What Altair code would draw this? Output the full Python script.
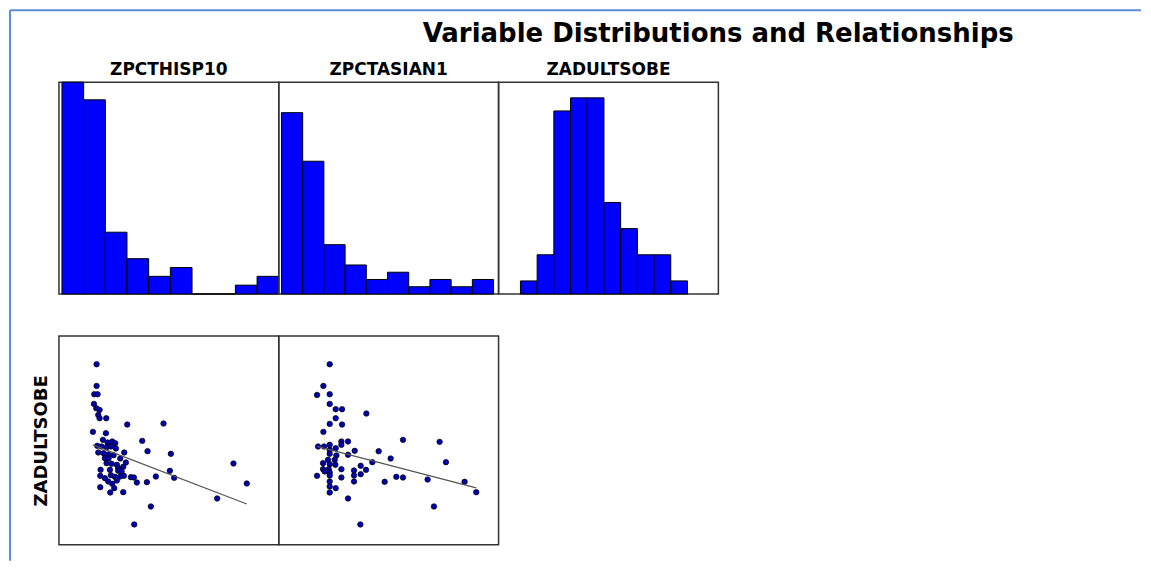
import altair as alt
import pandas as pd

# ---------------- data ----------------
main_title = ["Variable Distributions and Relationships"]
var_names = ["ZPCTHISP10", "ZPCTASIAN1", "ZADULTSOBE"]

hisp_edges = [-0.86, -0.398, 0.064, 0.526, 0.988, 1.45, 1.912, 2.374, 2.836, 3.298, 3.76]
hisp_counts = [24, 22, 7, 4, 2, 3, 0, 0, 1, 2]
asian_edges = [-0.73, -0.252, 0.226, 0.704, 1.182, 1.66, 2.138, 2.616, 3.094, 3.572, 4.05]
asian_counts = [25, 18.3, 6.8, 4, 2, 3, 1, 2, 1, 2]
obese_edges = [-1.84, -1.359, -0.878, -0.397, 0.084, 0.565, 1.046, 1.527, 2.008, 2.489, 2.97]
obese_counts = [1, 3, 14, 15, 15, 7, 5, 3, 3, 1]

hisp_x = [-0.75, -0.75, -0.82, -0.72, -0.83, -0.76, -0.66, -0.70, -0.66, -0.46,
          -0.86, -0.47, 0.17, 1.26, 0.62, -0.56, -0.42, -0.28, -0.19, -0.73,
          -0.60, -0.45, -0.32, -0.17, 0.78, -0.70, -0.54, -0.40, -0.24, 0.08,
          1.48, -0.39, -0.04, -0.50, -0.45, -0.30, -0.14, 0.13, 0.05, -0.10,
          -0.63, -0.35, -0.10, 0.00, -0.64, -0.32, -0.20, -0.04, 0.07, 0.28,
          0.37, -0.50, 1.45, 1.03, 1.58, 3.36, -0.40, -0.14, 0.46, 0.76,
          3.76, -0.28, -0.64, -0.22, -0.34, 0.05, 2.87, 0.88, 0.38]
hisp_y = [2.97, 2.32, 2.07, 2.07, 1.78, 1.65, 1.60, 1.45, 1.35, 1.35,
          0.94, 0.90, 1.16, 1.19, 0.67, 0.70, 0.62, 0.65, 0.60, 0.52,
          0.50, 0.48, 0.50, 0.44, 0.36, 0.32, 0.30, 0.26, 0.24, 0.32,
          0.28, 0.14, 0.14, 0.15, 0.00, -0.02, -0.05, 0.02, -0.11, -0.15,
          -0.20, -0.20, -0.23, -0.25, -0.38, -0.36, -0.41, -0.40, -0.38, -0.42,
          -0.43, -0.45, -0.23, -0.40, -0.44, -0.01, -0.55, -0.52, -0.58, -0.57,
          -0.61, -0.62, -0.72, -0.75, -0.88, -0.87, -1.06, -1.30, -1.84]

asian_x = [-0.35, -0.54, -0.73, -0.35, -0.35, -0.17, 0.02, 0.75, -0.17, -0.35,
           0.02, -0.54, 0.00, 0.20, 1.85, 2.95, -0.70, -0.52, -0.35, -0.17,
           0.00, -0.35, 0.40, 1.12, -0.35, -0.15, 0.20, -0.40, -0.20, 1.48,
           0.93, 3.14, -0.55, -0.35, -0.18, -0.55, -0.38, 0.00, 0.38, 0.58,
           0.74, -0.50, -0.35, -0.73, -0.35, 0.00, 0.38, 0.58, 1.65, 1.85,
           2.59, -0.35, 0.38, 1.30, 3.70, 4.05, -0.35, -0.17, -0.35, 0.20,
           2.78, 0.57]
asian_y = [2.97, 2.32, 2.05, 2.07, 1.78, 1.62, 1.62, 1.49, 1.35, 1.18,
           1.16, 0.94, 0.65, 0.65, 0.70, 0.64, 0.50, 0.50, 0.55, 0.45,
           0.55, 0.40, 0.37, 0.36, 0.28, 0.23, 0.25, 0.10, 0.10, 0.14,
           0.03, 0.03, 0.00, -0.03, -0.05, -0.18, -0.18, -0.18, -0.22, -0.08,
           -0.20, -0.25, -0.28, -0.38, -0.37, -0.43, -0.37, -0.33, -0.41, -0.43,
           -0.49, -0.55, -0.55, -0.56, -0.56, -0.87, -0.70, -0.75, -0.88, -1.06,
           -1.30, -1.84]

FONT = "DejaVu Sans"
BAR_FILL = "#0000ff"
PT_FILL = "#0000b0"
FRAME_BLUE = "#5b8fd6"


def hist(edges, counts, name, xdom, ymax):
    df = pd.DataFrame({"start": edges[:-1], "end": edges[1:], "count": counts})
    return alt.Chart(df, title=alt.TitleParams(name, fontSize=17, font=FONT, fontWeight="bold",
                                                 color="black", offset=3, anchor="middle")).mark_rect(
        fill=BAR_FILL, stroke="black", strokeWidth=1
    ).encode(
        x=alt.X("start:Q", scale=alt.Scale(domain=xdom, nice=False, zero=False), axis=None),
        x2="end:Q",
        y=alt.Y("count:Q", scale=alt.Scale(domain=[0, ymax], nice=False), axis=None),
    ).properties(width=220, height=212)


def scatter(xs, ys, first=False):
    df = pd.DataFrame({"x": xs, "y": ys})
    if first:
        yax = alt.Axis(title=var_names[2], labels=False, ticks=False, domain=False, grid=False,
                       titleFontSize=18, titleFont=FONT, titleFontWeight="bold",
                       titleColor="black", titlePadding=8)
    else:
        yax = None
    xenc = alt.X("x:Q", scale=alt.Scale(domain=[-1.88, 4.72], nice=False, zero=False), axis=None)
    yenc = alt.Y("y:Q", scale=alt.Scale(domain=[-2.45, 3.82], nice=False, zero=False), axis=yax)
    base = alt.Chart(df)
    pts = base.mark_circle(size=30, fill=PT_FILL, stroke="black", strokeWidth=0.7, opacity=1).encode(
        x=xenc, y=yenc)
    line = base.transform_regression("x", "y").mark_line(color="#555555", strokeWidth=1.2).encode(
        x=xenc, y=yenc)
    layers = [pts, line]
    if first:
        one = pd.DataFrame({"t": main_title})
        # screenshot frame (left and top edges) and the main title
        left_edge = alt.Chart(one).mark_rule(color=FRAME_BLUE, strokeWidth=2).encode(
            x=alt.value(-49), y=alt.value(-326), y2=alt.value(225))
        top_edge = alt.Chart(one).mark_rule(color=FRAME_BLUE, strokeWidth=2).encode(
            x=alt.value(-49), x2=alt.value(1083), y=alt.value(-326))
        title_txt = alt.Chart(one).mark_text(
            align="left", baseline="alphabetic", fontSize=26, font=FONT, fontWeight="bold",
            color="black").encode(text="t:N", x=alt.value(364), y=alt.value(-294))
        layers += [left_edge, top_edge, title_txt]
    return alt.layer(*layers).properties(width=220, height=209)


h1 = hist(hisp_edges, hisp_counts, var_names[0], [-0.924, 3.76], 24)
h2 = hist(asian_edges, asian_counts, var_names[1], [-0.791, 4.163], 29.2)
h3 = hist(obese_edges, obese_counts, var_names[2], [-2.47, 3.86], 16.2)

s1 = scatter(hisp_x, hisp_y, first=True)
s2 = scatter(asian_x, asian_y)

chart = alt.concat(h1, h2, h3, s1, s2, columns=3, spacing={"row": 42, "column": 0},
                   bounds="flush").properties(
    padding={"left": 0, "top": 0, "right": 0, "bottom": 0}
).configure_view(
    stroke="#333333", strokeWidth=1.5
)

chart.save("out.html", embed_options={"renderer": "svg", "actions": False})
